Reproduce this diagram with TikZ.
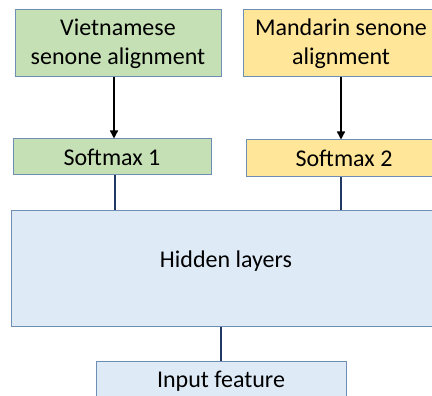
\documentclass[tikz,border=0pt]{standalone}
\usepackage{fontspec}
\setmainfont{Carlito}
\usetikzlibrary{arrows.meta}
\definecolor{greenfill}{HTML}{C5E0B4}
\definecolor{yellowfill}{HTML}{FFE699}
\definecolor{bluefill}{HTML}{DEEBF7}
\definecolor{boxline}{HTML}{6E8FB3}
\definecolor{navy}{HTML}{1F3864}
\begin{document}
\begin{tikzpicture}[x=1pt,y=-1pt,
  box/.style={draw=boxline,line width=1pt,inner sep=0pt,align=center,font=\fontsize{24}{29}\selectfont},
  arr/.style={-{Triangle[length=8pt,width=8pt]},line width=1.4pt,black},
  conn/.style={line width=2.2pt,draw=navy}]
\useasboundingbox (0,0) rectangle (432,396);
\clip (0,0) rectangle (432,396);
\node[box,fill=greenfill,minimum width=206pt,minimum height=67pt] (viet) at (118,43.5) {Vietnamese\\senone alignment};
\node[box,fill=yellowfill,minimum width=196pt,minimum height=67pt] (mand) at (341,43.5) {Mandarin senone\\alignment};
\node[box,fill=greenfill,minimum width=198pt,minimum height=36pt] (soft1) at (112,157) {Softmax 1};
\node[box,fill=yellowfill,minimum width=196pt,minimum height=37pt] (soft2) at (344,158.5) {Softmax 2};
\node[box,fill=bluefill,minimum width=430pt,minimum height=115pt] (hidden) at (226,268.5) {};
\node[font=\fontsize{24}{29}\selectfont] (hiddentext) at (226,261) {Hidden layers};
\node[box,fill=bluefill,minimum width=250pt,minimum height=40pt] (input) at (221,381) {Input feature};
\draw[arr] (viet.south -| 114,0) -- (soft1.north -| 114,0);
\draw[arr] (mand.south) -- (mand.south |- soft2.north);
\draw[conn] (soft1.south -| 115,0) -- (hidden.north -| 115,0);
\draw[conn] (mand.south |- soft2.south) -- (mand.south |- hidden.north);
\draw[conn] (hidden.south -| input.north) -- (input.north);
\end{tikzpicture}
\end{document}
